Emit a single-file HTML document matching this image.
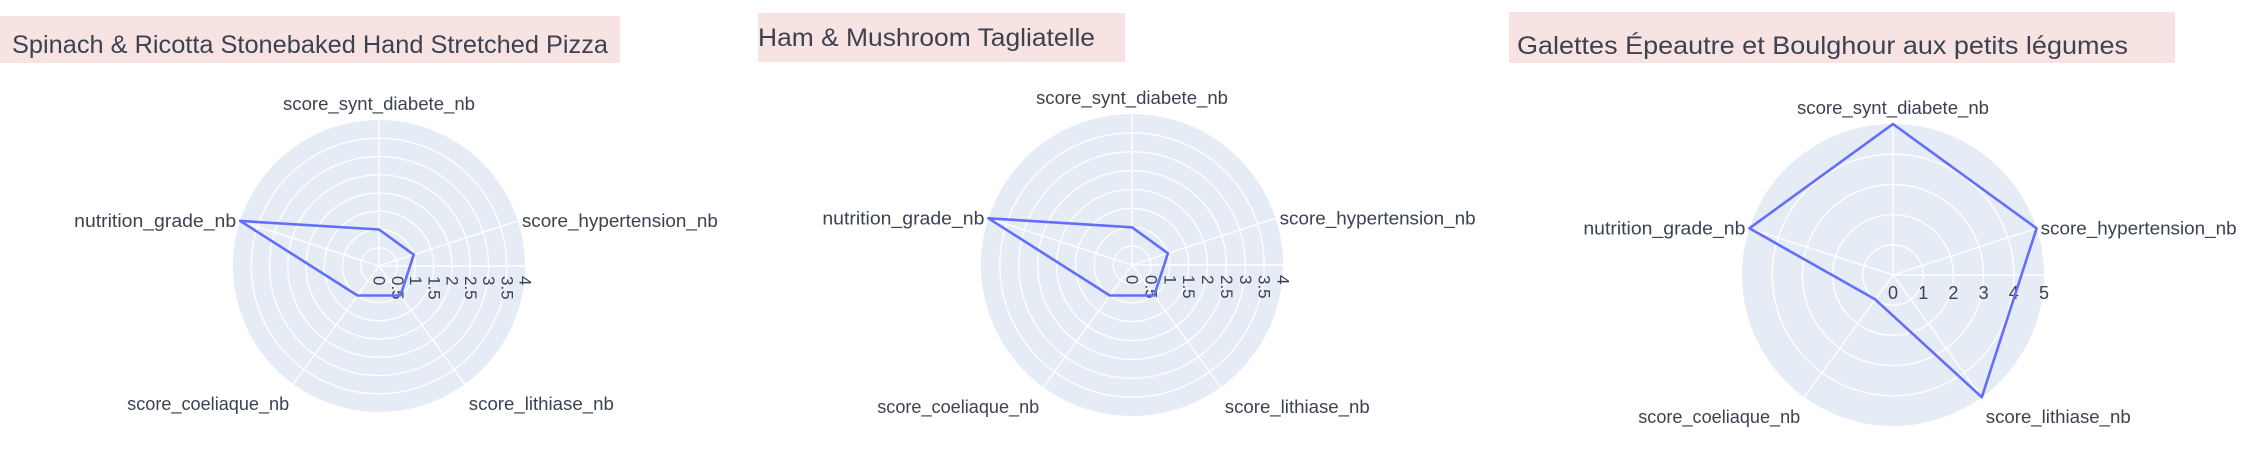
<!DOCTYPE html>
<html><head><meta charset="utf-8">
<style>
html,body{margin:0;padding:0;background:#fff;}
body{width:2259px;height:463px;overflow:hidden;}
svg{display:block;font-family:"Liberation Sans",sans-serif;}
</style></head>
<body>
<svg id="root" width="2259" height="463" viewBox="0 0 2259 463"></svg>
<script>
const categories = ["score_synt_diabete_nb","score_hypertension_nb","score_lithiase_nb","score_coeliaque_nb","nutrition_grade_nb"];
const titles = ["Spinach & Ricotta Stonebaked Hand Stretched Pizza","Ham & Mushroom Tagliatelle","Galettes Épeautre et Boulghour aux petits légumes"];
const pizzaValues = [1,1,1,1,4];
const hamValues = [1,1,1,1,4];
const galettesValues = [5,5,5,1,5];
const ticksHalf = ["0","0.5","1","1.5","2","2.5","3","3.5","4"];
const tickValsHalf = [0,0.5,1,1.5,2,2.5,3,3.5,4];
const ticksInt = ["0","1","2","3","4","5"];
const tickValsInt = [0,1,2,3,4,5];

const NS="http://www.w3.org/2000/svg";
const root=document.getElementById('root');
function mk(tag,attrs,parent){const e=document.createElementNS(NS,tag);for(const k in attrs)e.setAttribute(k,attrs[k]);(parent||root).appendChild(e);return e;}

const angles=[90,18,-54,-126,162];
const labelWidths=[192,196,145,162,162];

const charts=[
 {key:'pizza',cx:379,cy:266,R:146,max:4,values:pizzaValues,ticks:ticksHalf,tickVals:tickValsHalf,rot:true,
  box:[0,16,620,47],tx:12,ty:53,tw:596},
 {key:'ham',cx:1132,cy:265,R:151,max:4,values:hamValues,ticks:ticksHalf,tickVals:tickValsHalf,rot:true,
  box:[758,13,367,49],tx:758,ty:46,tw:337},
 {key:'galettes',cx:1893,cy:275,R:151,max:5,values:galettesValues,ticks:ticksInt,tickVals:tickValsInt,rot:false,
  box:[1509,12,666,51],tx:1517,ty:54,tw:611}
];

charts.forEach((c,ci)=>{
  const g=mk('g',{});
  
  
  const rScale=v=>v/c.max*c.R;
  const pt=(i,v)=>{const a=angles[i]*Math.PI/180;return [c.cx+rScale(v)*Math.cos(a),c.cy-rScale(v)*Math.sin(a)];};
  const tb=mk('rect',{x:c.box[0],y:c.box[1],width:c.box[2],height:c.box[3],fill:'#f8e3e3'},g);
  
  
  const tt=mk('text',{x:c.tx,y:c.ty,'font-size':25,fill:'#3c4250',textLength:c.tw,lengthAdjust:'spacingAndGlyphs'},g);
  tt.textContent=titles[ci];
  
  
  const bg=mk('circle',{cx:c.cx,cy:c.cy,r:c.R,fill:'#e5ecf6'},g);
  
  
  c.tickVals.forEach(v=>{ if(v<=0||v>=c.max) return;
    const ring=mk('circle',{cx:c.cx,cy:c.cy,r:rScale(v),fill:'none',stroke:'#fff','stroke-width':1.3},g);
    
    
  });
  angles.forEach((a,i)=>{const p=pt(i,c.max);
    const sp=mk('line',{x1:c.cx,y1:c.cy,x2:p[0],y2:p[1],stroke:'#fff','stroke-width':1.3},g);
    
    
  });
  const ax=mk('line',{x1:c.cx,y1:c.cy,x2:c.cx+c.R,y2:c.cy,stroke:'#fff','stroke-width':1.5},g);
  
  
  c.ticks.forEach((t,i)=>{
    const x=c.cx+rScale(c.tickVals[i]);
    let el;
    if(c.rot){
      el=mk('text',{x:0,y:0,'font-size':17,fill:'#3c4250','dominant-baseline':'central',transform:`translate(${x},${c.cy+10}) rotate(90)`},g);
    } else {
      el=mk('text',{x:x,y:c.cy+24,'font-size':18,fill:'#3c4250','text-anchor':'middle'},g);
    }
    el.textContent=t;
    
    
  });
  categories.forEach((cat,i)=>{
    const p=pt(i,c.max);let x=p[0],y=p[1],anchor='start';
    if(i===0){anchor='middle';y-=10;}
    else if(i===1){x+=4;y+=6;}
    else if(i===2){x+=4;y+=26;}
    else if(i===3){anchor='end';x-=4;y+=26;}
    else {anchor='end';x-=4;y+=6;}
    const el=mk('text',{x:x,y:y,'font-size':18,fill:'#3c4250','text-anchor':anchor,textLength:labelWidths[i],lengthAdjust:'spacingAndGlyphs'},g);
    el.textContent=cat;
    
    
  });
  const pts=c.values.map((v,i)=>pt(i,v).map(n=>n.toFixed(1)).join(',')).join(' ');
  const poly=mk('polygon',{points:pts,fill:'none',stroke:'#636efa','stroke-width':2.6,'stroke-linejoin':'round'},g);
  
  
});
</script>
</body></html>
